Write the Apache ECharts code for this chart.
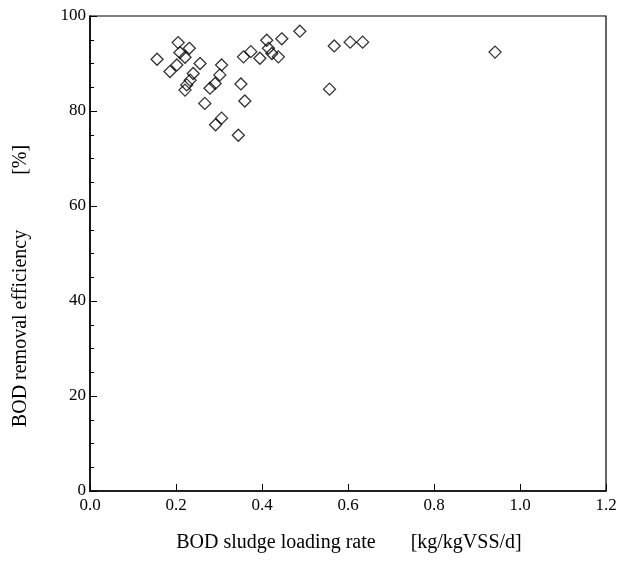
<!DOCTYPE html>
<html>
<head>
<meta charset="utf-8">
<script src="https://cdn.jsdelivr.net/npm/echarts@6/dist/echarts.min.js"></script>
<style>html,body{margin:0;padding:0;background:#fff;}#c{width:629px;height:561px;}</style>
</head>
<body>
<div id="c"></div>
<script>
const loadingRate = [0.156,0.205,0.231,0.209,0.221,0.202,0.186,0.256,0.240,0.233,0.225,0.221,
  0.306,0.302,0.291,0.279,0.267,0.360,0.306,0.292,0.345,0.351,0.411,0.446,0.357,0.374,
  0.395,0.415,0.423,0.438,0.488,0.568,0.605,0.634,0.557,0.942];
const removalEff = [90.9,94.4,93.2,92.3,91.3,89.7,88.3,90.0,87.9,86.5,85.5,84.4,
  89.7,87.6,85.8,84.8,81.6,82.1,78.5,77.1,74.9,85.7,94.9,95.2,91.4,92.5,
  91.1,93.2,92.1,91.4,96.8,93.7,94.5,94.5,84.6,92.4];
const xTicks = ['0.0','0.2','0.4','0.6','0.8','1.0','1.2'];
const xTitle = 'BOD sludge loading rate       [kg/kgVSS/d]';
const yTitle = 'BOD removal efficiency           [%]';

const font = '"Liberation Serif", "DejaVu Serif", serif';
const chart = echarts.init(document.getElementById('c'));
chart.setOption({
  animation: false,
  backgroundColor: '#fff',
  grid: {left: 90, right: 23, top: 16, bottom: 70, show: true, borderColor: '#000', borderWidth: 1.2, backgroundColor: 'transparent'},
  xAxis: {
    type: 'value', min: 0, max: 1.2, interval: 0.2,
    axisLine: {lineStyle: {color: '#000', width: 1.5}},
    axisTick: {inside: true, length: 7, lineStyle: {color: '#000', width: 1}},
    splitLine: {show: false},
    axisLabel: {color: '#000', fontFamily: font, fontSize: 17, margin: 6,
      formatter: v => xTicks[Math.round(v / 0.2)]}
  },
  yAxis: {
    type: 'value', min: 0, max: 100, interval: 20,
    axisLine: {lineStyle: {color: '#000', width: 1.5}},
    axisTick: {inside: true, length: 7, lineStyle: {color: '#000', width: 1}},
    minorTick: {show: true, splitNumber: 4, length: 4, lineStyle: {color: '#000', width: 1}},
    splitLine: {show: false},
    axisLabel: {color: '#000', fontFamily: font, fontSize: 17, margin: 4}
  },
  graphic: [
    {type: 'text', x: 349, y: 533,
      style: {text: xTitle, fill: '#000', font: '20px ' + font, textAlign: 'center', textVerticalAlign: 'top'}},
    {type: 'text', x: 11, y: 286, rotation: Math.PI / 2,
      style: {text: yTitle, fill: '#000', font: '20px ' + font, textAlign: 'center', textVerticalAlign: 'top'}}
  ],
  series: [{
    type: 'scatter',
    symbol: 'diamond',
    symbolSize: 12,
    data: loadingRate.map((x, i) => [x, removalEff[i]]),
    itemStyle: {color: 'transparent', borderColor: '#000', borderWidth: 1.3}
  }]
});
</script>
</body>
</html>
